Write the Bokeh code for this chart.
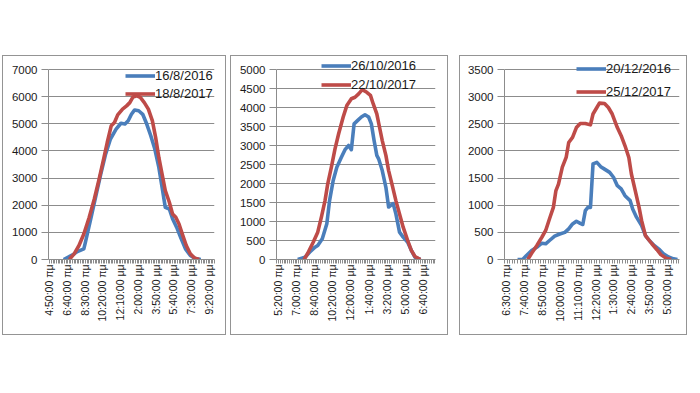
import math
from bokeh.plotting import figure
from bokeh.models import Range1d, FixedTicker, Legend, LegendItem
from bokeh.layouts import row
from bokeh.embed import file_html
from bokeh.resources import INLINE

# ---------------- data ----------------
# Panel 1 (August)
p1_tick_labels = ["4:50:00 πμ", "6:40:00 πμ", "8:30:00 πμ", "10:20:00 πμ", "12:10:00 μμ",
                  "2:00:00 μμ", "3:50:00 μμ", "5:40:00 μμ", "7:30:00 μμ", "9:20:00 μμ"]
p1_name_a = "16/8/2016"
p1_times_a = ["6:20", "7:15", "7:45", "8:25", "8:35", "9:10", "9:40", "10:10", "10:40", "11:10",
              "11:45", "12:15", "12:40", "13:00", "13:20", "13:40", "14:05", "14:30", "14:55", "15:20",
              "15:45", "16:10", "16:30", "16:50", "17:15", "17:35", "18:00", "18:25", "18:55", "19:25",
              "19:55", "20:30"]
p1_vals_a = [0, 170, 290, 390, 640, 1550, 2350, 3150, 3880, 4440,
             4800, 5020, 4990, 5110, 5350, 5510, 5480, 5350, 4990, 4560,
             4070, 3390, 2660, 1920, 1860, 1500, 1190, 820, 390, 150,
             40, 0]
p1_name_b = "18/8/2017"
p1_times_b = ["6:55", "7:25", "7:55", "8:25", "8:58", "9:30", "10:00", "10:30", "10:50", "11:15",
              "11:35", "11:55", "12:25", "12:50", "13:10", "13:30", "13:55", "14:15", "14:40", "15:05",
              "15:30", "15:50", "16:10", "16:30", "16:50", "17:15", "17:35", "17:55", "18:15", "18:35",
              "19:00", "19:25", "19:50", "20:20"]
p1_vals_b = [0, 210, 515, 940, 1550, 2230, 2965, 3760, 4310, 4930,
             5050, 5330, 5540, 5660, 5780, 5990, 6030, 5970, 5780, 5540,
             5110, 4500, 3760, 3150, 2540, 2110, 1680, 1555, 1310, 945,
             515, 210, 60, 0]

# Panel 2 (October)
p2_tick_labels = ["5:20:00 πμ", "7:00:00 πμ", "8:40:00 πμ", "10:20:00 πμ", "12:00:00 μμ",
                  "1:40:00 μμ", "3:20:00 μμ", "5:00:00 μμ", "6:40:00 μμ"]
p2_name_a = "26/10/2016"
p2_times_a = ["7:10", "7:50", "8:15", "8:45", "9:00", "9:25", "9:50", "10:05", "10:25", "10:45",
              "11:10", "11:30", "11:50", "12:05", "12:20", "12:40", "13:00", "13:20", "13:40", "13:55",
              "14:10", "14:25", "14:35", "14:55", "15:15", "15:30", "15:45", "15:55", "16:10", "16:30",
              "16:50", "17:15", "17:35", "17:55", "18:25"]
p2_vals_a = [0, 60, 190, 325, 370, 545, 940, 1550, 2080, 2430,
             2690, 2890, 3000, 2890, 3570, 3660, 3750, 3810, 3750, 3570,
             3130, 2740, 2650, 2340, 1900, 1380, 1440, 1470, 1200, 720,
             590, 455, 240, 60, 0]
p2_name_b = "22/10/2017"
p2_times_b = ["7:45", "8:05", "8:35", "9:00", "9:20", "9:40", "9:55", "10:15", "10:35", "10:55",
              "11:20", "11:40", "12:05", "12:25", "12:45", "13:05", "13:30", "13:50", "14:05", "14:25",
              "14:40", "14:55", "15:15", "15:30", "15:50", "16:10", "16:30", "16:50", "17:15", "17:35",
              "17:55", "18:25"]
p2_vals_b = [0, 165, 455, 720, 1115, 1550, 1990, 2430, 2910, 3310,
             3750, 4050, 4230, 4270, 4360, 4470, 4400, 4320, 4100, 3830,
             3480, 3130, 2740, 2340, 1950, 1550, 1200, 850, 500, 240,
             80, 0]

# Panel 3 (December)
p3_tick_labels = ["6:30:00 πμ", "7:40:00 πμ", "8:50:00 πμ", "10:00:00 πμ", "11:10:00 πμ",
                  "12:20:00 μμ", "1:30:00 μμ", "2:40:00 μμ", "3:50:00 μμ", "5:00:00 μμ"]
p3_name_a = "20/12/2016"
p3_times_a = ["7:15", "7:35", "7:50", "8:10", "8:30", "8:50", "9:05", "9:20", "9:40", "10:00",
              "10:20", "10:35", "10:50", "11:05", "11:20", "11:30", "11:40", "11:50", "12:00", "12:10",
              "12:25", "12:40", "12:55", "13:15", "13:30", "13:45", "14:00", "14:15", "14:35", "14:45",
              "15:00", "15:20", "15:35", "15:50", "16:10", "16:30", "16:45", "17:05", "17:25", "17:40"]
p3_vals_a = [0, 0, 75, 165, 225, 300, 290, 350, 430, 470,
             500, 565, 655, 705, 665, 645, 900, 960, 960, 1760,
             1790, 1710, 1665, 1605, 1515, 1360, 1300, 1175, 1085, 930,
             780, 625, 440, 350, 255, 180, 105, 45, 12, 0]
p3_name_b = "25/12/2017"
p3_times_b = ["7:55", "8:10", "8:30", "8:50", "9:05", "9:20", "9:35", "9:45", "9:55", "10:10",
              "10:25", "10:35", "10:50", "11:05", "11:20", "11:40", "12:00", "12:10", "12:25", "12:35",
              "12:55", "13:10", "13:25", "13:45", "14:00", "14:15", "14:30", "14:40", "14:55", "15:10",
              "15:20", "15:35", "15:50", "16:00", "16:20", "16:35", "16:55", "17:15"]
p3_vals_b = [0, 115, 255, 410, 535, 750, 960, 1270, 1390, 1700,
             1880, 2155, 2250, 2430, 2505, 2505, 2480, 2680, 2800, 2880,
             2875, 2800, 2680, 2430, 2280, 2095, 1880, 1575, 1270, 960,
             715, 440, 350, 290, 180, 90, 25, 0]

# ---------------- helpers ----------------
BLUE = "#4a7ebb"
RED = "#be4b48"
GRID = "#8c8c8c"
FONT = "Liberation Sans"
CANVAS_H = 280
BORDER_BOTTOM = 77
FRAME_H = CANVAS_H - BORDER_BOTTOM   # frame spans the whole canvas above the x axis
SCALE_H = 190                        # pixel height of 0..y_max


def to_min(s):
    h, m = s.split(":")
    return int(h) * 60 + int(m)


def label_to_min(lbl):
    t, ampm = lbl.split(" ")
    h, m, _ = t.split(":")
    h = int(h) % 12
    if ampm == "μμ":
        h += 12
    return h * 60 + int(m)


def make_panel(tick_labels, x_start, x_end, y_max, y_step,
               ta, va, na, tb, vb, nb,
               width, bl, br, leg_loc, leg_spacing, margin):
    y_end = y_max * FRAME_H / SCALE_H
    p = figure(width=width, height=CANVAS_H, output_backend="svg", toolbar_location=None,
               x_range=Range1d(x_start, x_end), y_range=Range1d(0, y_end),
               min_border_left=bl, min_border_right=br, min_border_top=0,
               min_border_bottom=BORDER_BOTTOM,
               outline_line_color=None, background_fill_color="white", border_fill_color="white")
    p.margin = margin
    p.styles = {"border": "1px solid #949494"}

    ra = p.line([to_min(t) for t in ta], va, line_color=BLUE, line_width=3.6, line_join="round")
    rb = p.line([to_min(t) for t in tb], vb, line_color=RED, line_width=3.6, line_join="round")

    majors = [label_to_min(l) for l in tick_labels]
    minors = []
    m = majors[0] - 5
    while m - 10 >= x_start:
        m -= 10
    while m <= x_end:
        minors.append(m)
        m += 10
    p.xaxis.ticker = FixedTicker(ticks=majors, minor_ticks=minors)
    p.xaxis.major_label_overrides = {k: l for k, l in zip(majors, tick_labels)}
    p.xaxis.major_label_orientation = math.pi / 2
    p.xaxis.major_tick_line_color = None
    p.xaxis.major_tick_out = 4
    p.xaxis.major_tick_in = 0
    p.xaxis.minor_tick_out = 4
    p.xaxis.minor_tick_in = 0
    p.xaxis.minor_tick_line_color = GRID
    p.xaxis.axis_line_color = GRID
    p.xaxis.major_label_standoff = 1
    p.xaxis.major_label_text_font = FONT
    p.xaxis.major_label_text_font_size = "10.5px"
    p.xaxis.major_label_text_color = "#1a1a1a"

    p.yaxis.ticker = FixedTicker(ticks=list(range(0, y_max + 1, y_step)))
    p.yaxis.bounds = (0, y_max)
    p.yaxis.major_tick_out = 7
    p.yaxis.major_tick_in = 0
    p.yaxis.major_tick_line_color = GRID
    p.yaxis.minor_tick_line_color = None
    p.yaxis.axis_line_color = GRID
    p.yaxis.major_label_standoff = 4
    p.yaxis.major_label_text_font = FONT
    p.yaxis.major_label_text_font_size = "11.5px"
    p.yaxis.major_label_text_color = "#1a1a1a"

    p.xgrid.visible = False
    p.ygrid.grid_line_color = GRID
    p.ygrid.grid_line_width = 1

    leg = Legend(items=[LegendItem(label=na, renderers=[ra]), LegendItem(label=nb, renderers=[rb])],
                 location=leg_loc, glyph_width=30, glyph_height=15, label_height=15,
                 label_standoff=0, spacing=leg_spacing, padding=0, margin=0,
                 border_line_color=None, background_fill_alpha=0,
                 label_text_font=FONT, label_text_font_size="13px", label_text_color="#1a1a1a")
    p.add_layout(leg)
    return p


p1 = make_panel(p1_tick_labels, 286, 1315, 7000, 1000,
                p1_times_a, p1_vals_a, p1_name_a, p1_times_b, p1_vals_b, p1_name_b,
                224, 45, 13, (77, 158), 3, (55, 0, 0, 2))
p2 = make_panel(p2_tick_labels, 313, 1188, 5000, 500,
                p2_times_a, p2_vals_a, p2_name_a, p2_times_b, p2_vals_b, p2_name_b,
                218, 45, 14, (45, 167), 4, (55, 0, 0, 4))
p3 = make_panel(p3_tick_labels, 384, 1068, 3500, 500,
                p3_times_a, p3_vals_a, p3_name_a, p3_times_b, p3_vals_b, p3_name_b,
                228, 44, 9, (72, 160), 8, (55, 0, 0, 11))

layout = row(p1, p2, p3)
open("out.html", "w").write(file_html(layout, INLINE))
